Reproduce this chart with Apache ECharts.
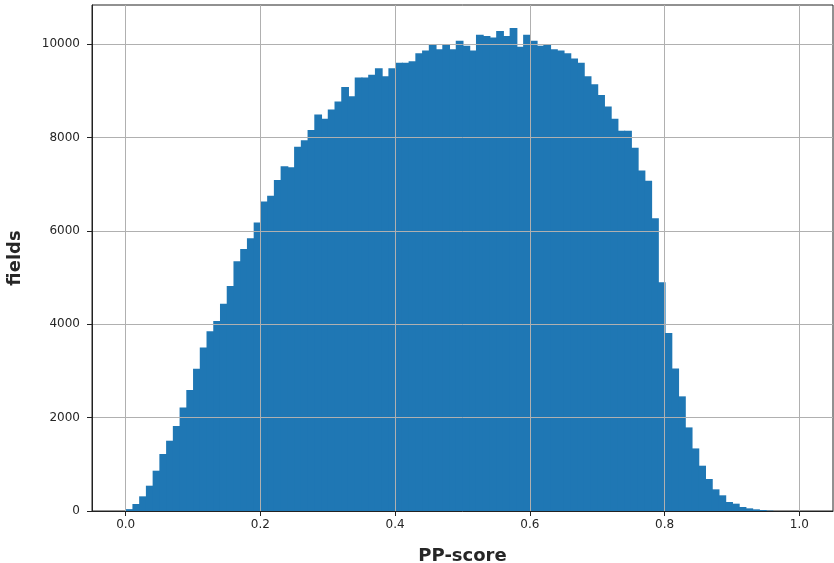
<!DOCTYPE html>
<html>
<head>
<meta charset="utf-8">
<script src="https://cdn.jsdelivr.net/npm/echarts@6/dist/echarts.min.js"></script>
<style>
html,body{margin:0;padding:0;background:#fff;}
#chart{width:834px;height:563px;}
</style>
</head>
<body>
<div id="chart"></div>
<script>
// Histogram bins: start value of each bin (width 0.01)
const binWidth = 0.01;
const binStarts = [];
for (let i = 0; i < 96; i++) binStarts.push(+(i * binWidth).toFixed(2));

// Counts per bin
const counts = [
  40, 150, 314, 542, 863, 1220, 1505, 1820, 2215, 2590,
  3045, 3500, 3850, 4070, 4440, 4820, 5350, 5610, 5840, 6180,
  6630, 6750, 7090, 7380, 7360, 7800, 7940, 8160, 8490, 8400,
  8600, 8770, 9080, 8880, 9280, 9280, 9340, 9480, 9310, 9480,
  9600, 9600, 9630, 9800, 9860, 10000, 9890, 10000, 9890, 10070,
  9960, 9860, 10200, 10170, 10140, 10280, 10170, 10340, 9940, 10200,
  10070, 9960, 10000, 9890, 9860, 9800, 9690, 9600, 9310, 9140,
  8910, 8660, 8400, 8140, 8140, 7780, 7290, 7070, 6270, 4900,
  3810, 3050, 2455, 1790, 1340, 970, 685, 464, 336, 193,
  157, 86, 57, 36, 21, 8
];

const xTicks = [0, 0.2, 0.4, 0.6, 0.8, 1.0];
const yTicks = [0, 2000, 4000, 6000, 8000, 10000];

const data = binStarts.map((s, i) => [s, counts[i]]);

const chart = echarts.init(document.getElementById('chart'), null, {renderer: 'canvas'});

const gridLineData = xTicks.map(v => ({xAxis: v})).concat(
  yTicks.filter(v => v > 0).map(v => ({yAxis: v}))
);

const textColor = '#262626';
const font = 'DejaVu Sans';

chart.setOption({
  animation: false,
  backgroundColor: '#ffffff',
  grid: {
    left: 92, right: 1, top: 5, bottom: 52,
    containLabel: false,
    outerBoundsMode: 'none',
    show: true, borderColor: '#222', borderWidth: 1, backgroundColor: 'transparent'
  },
  xAxis: {
    type: 'value',
    min: -0.05, max: 1.05,
    z: 10,
    name: 'PP-score',
    nameLocation: 'middle',
    nameGap: 36,
    nameTextStyle: {fontFamily: font, fontSize: 18, fontWeight: 'bold', color: textColor},
    axisLine: {show: true, onZero: false, lineStyle: {color: '#222', width: 1}},
    axisTick: {show: true, inside: false, length: 5, customValues: xTicks, lineStyle: {color: '#222'}},
    axisLabel: {
      customValues: xTicks,
      margin: 8,
      fontFamily: font, fontSize: 12, color: textColor,
      formatter: v => v.toFixed(1)
    },
    splitLine: {show: false}
  },
  yAxis: {
    type: 'value',
    min: 0, max: 10835,
    z: 10,
    name: 'fields',
    nameLocation: 'middle',
    nameGap: 68,
    nameTextStyle: {fontFamily: font, fontSize: 18, fontWeight: 'bold', color: textColor},
    axisLine: {show: true, onZero: false, lineStyle: {color: '#222', width: 1}},
    axisTick: {show: true, inside: false, length: 5, customValues: yTicks, lineStyle: {color: '#222'}},
    axisLabel: {
      customValues: yTicks,
      margin: 12,
      fontFamily: font, fontSize: 12, color: textColor,
      formatter: v => String(v)
    },
    splitLine: {show: false}
  },
  series: [
    {
      type: 'custom',
      z: 2,
      silent: true,
      data: data,
      encode: {x: 0, y: 1},
      renderItem: function (params, api) {
        const x0 = api.value(0);
        const y = api.value(1);
        const p0 = api.coord([x0, y]);
        const p1 = api.coord([x0 + binWidth, 0]);
        return {
          type: 'rect',
          shape: {x: p0[0], y: p0[1], width: p1[0] - p0[0] + 1, height: p1[1] - p0[1]},
          style: {fill: '#1f77b4'}
        };
      }
    },
    {
      type: 'line',
      z: 5,
      data: [],
      silent: true,
      markLine: {
        silent: true,
        symbol: ['none', 'none'],
        label: {show: false},
        lineStyle: {color: '#b0b0b0', width: 1, type: 'solid'},
        emphasis: {disabled: true},
        data: gridLineData
      }
    }
  ]
});
</script>
</body>
</html>
